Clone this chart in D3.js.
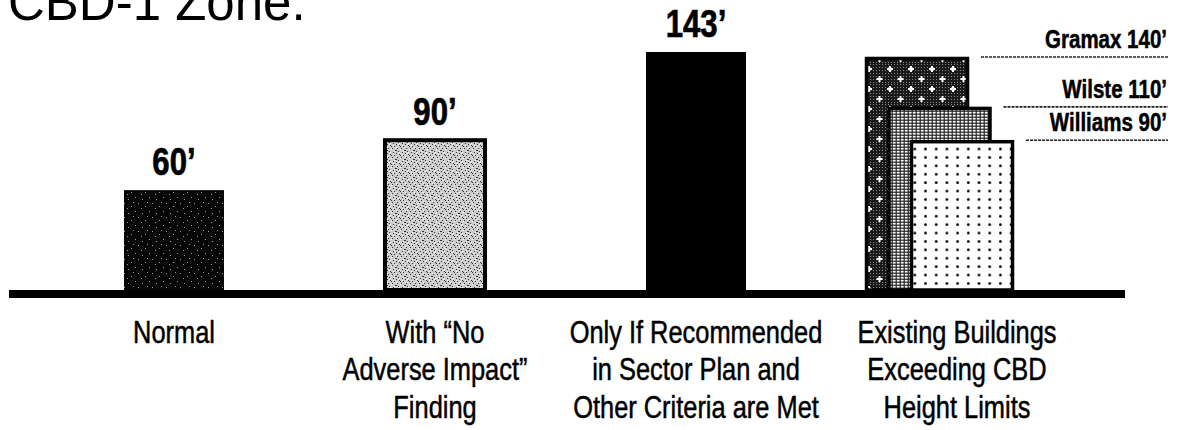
<!DOCTYPE html>
<html lang="en">
<head>
<meta charset="utf-8" />
<title>CBD-1 Zone height limits</title>
<style>
html, body {
	margin: 0;
	padding: 0;
	background: #fff;
}
svg {
	display: block;
}
text {
	font-family: "Liberation Sans", Arial, sans-serif;
}
text.cat {
	font-size: 31px;
	text-anchor: middle;
	stroke: #000;
	stroke-width: 0.5px;
}
text.val {
	font-weight: bold;
	font-size: 38px;
	text-anchor: middle;
	stroke: #000;
	stroke-width: 0.7px;
}
text.name {
	font-weight: bold;
	font-size: 25px;
	text-anchor: end;
	stroke: #000;
	stroke-width: 0.5px;
}
</style>
</head>
<body>
<svg width="1177" height="430"></svg>

<script src="https://cdn.jsdelivr.net/npm/d3@7"></script>
<script>
// data
var categories = ["Normal", "No Adverse Impact", "Sector Plan", "Existing"];
var categoryLines = [
	["Normal"],
	["With \u201cNo", "Adverse Impact\u201d", "Finding"],
	["Only If Recommended", "in Sector Plan and", "Other Criteria are Met"],
	["Existing Buildings", "Exceeding CBD", "Height Limits"]
];
var limitHeights = [60, 90, 143];        // first three categories, feet
var buildings = ["Gramax", "Wilste", "Williams"];
var buildingHeights = [140, 110, 90];    // existing buildings, feet

var svg = d3.select("svg");
var baseY = 290;
var narrow = 0.82; // squeeze Liberation Sans to a narrow face

function place(px, py) {
	return "translate(" + px + "," + py + ") scale(" + narrow + ",1)";
}

// scales
var x = d3.scalePoint().domain(categories).range([174, 957]);
var y = d3.scaleLinear().domain([0, 143]).range([baseY, 52]);
var barW = 100;
var bx = d3.scaleLinear().domain([0, buildings.length - 1]).range([-92, -47]); // offset of each building in the last group
var bW = 104;

// textures
var defs = svg.append("defs");

// near-black speckle
var p1 = defs.append("pattern").attr("id", "speck").attr("patternUnits", "userSpaceOnUse")
	.attr("width", 14).attr("height", 14);
p1.append("rect").attr("width", 14).attr("height", 14).attr("fill", "#060606");
[[2,3],[9,1],[5,10],[12,7],[1,12],[7,6]].forEach(function(p){
	p1.append("rect").attr("x", p[0]).attr("y", p[1]).attr("width", 1).attr("height", 1)
		.attr("fill", "#fff").attr("opacity", 0.6);
});

// light stipple
var p2 = defs.append("pattern").attr("id", "stipple").attr("patternUnits", "userSpaceOnUse")
	.attr("width", 9).attr("height", 9);
p2.append("rect").attr("width", 9).attr("height", 9).attr("fill", "#cdcdcd");
[[0,0],[3,1],[7,2],[1,4],[5,4],[8,6],[2,7],[6,8],[4,2],[0,6]].forEach(function(p){
	p2.append("rect").attr("x", p[0]).attr("y", p[1]).attr("width", 1).attr("height", 1).attr("fill", "#333");
});
[[2,0],[6,1],[0,3],[4,5],[7,7],[3,8]].forEach(function(p){
	p2.append("rect").attr("x", p[0]).attr("y", p[1]).attr("width", 1).attr("height", 1).attr("fill", "#fff");
});

// Gramax: dark fine dots with white plus signs
var p3 = defs.append("pattern").attr("id", "plus").attr("patternUnits", "userSpaceOnUse")
	.attr("width", 21).attr("height", 20).attr("x", 3).attr("y", 4);
p3.append("rect").attr("width", 21).attr("height", 20).attr("fill", "#1a1a1a");
for (var i = 0; i < 7; i++) for (var j = 0; j < 7; j++) {
	p3.append("rect").attr("x", i * 3).attr("y", j * 3).attr("width", 1).attr("height", 1).attr("fill", "#888");
}
[[5, 5], [15.5, 15]].forEach(function(c){
	p3.append("rect").attr("x", c[0] - 3).attr("y", c[1] - 1).attr("width", 6).attr("height", 2).attr("fill", "#fff");
	p3.append("rect").attr("x", c[0] - 1).attr("y", c[1] - 3).attr("width", 2).attr("height", 6).attr("fill", "#fff");
});

// Wilste: dense mesh
var p4 = defs.append("pattern").attr("id", "mesh").attr("patternUnits", "userSpaceOnUse")
	.attr("width", 4).attr("height", 3);
p4.append("rect").attr("width", 4).attr("height", 3).attr("fill", "#222");
p4.append("rect").attr("x", 0.8).attr("y", 0.8).attr("width", 2.8).attr("height", 1.8).attr("fill", "#fff");

// Williams: white with black dots
var p5 = defs.append("pattern").attr("id", "dots").attr("patternUnits", "userSpaceOnUse")
	.attr("width", 10.7).attr("height", 8.4).attr("x", 0).attr("y", 2);
p5.append("rect").attr("width", 10.7).attr("height", 8.4).attr("fill", "#fff");
p5.append("circle").attr("cx", 5.3).attr("cy", 4.2).attr("r", 1.4).attr("fill", "#000");

var fills = ["url(#speck)", "url(#stipple)", "#000"];
var bldFills = ["url(#plus)", "url(#mesh)", "url(#dots)"];

// title (cut off at the top edge, as in the source)
svg.append("text")
	.attr("x", 8).attr("y", 20)
	.style("font-size", "51px")
	.text("CBD-1 Zone.");

// zoning limit bars
var limits = categories.slice(0, 3).map(function(c, i){ return {cat: c, h: limitHeights[i]}; });

svg.selectAll("rect.limit")
	.data(limits)
	.enter()
	.append("rect")
	.attr("class", "limit")
	.attr("x", function(d){ return x(d.cat) - barW / 2; })
	.attr("y", function(d){ return y(d.h); })
	.attr("width", barW)
	.attr("height", function(d){ return baseY - y(d.h); })
	.attr("fill", function(d, i){ return fills[i]; })
	.attr("stroke", function(d, i){ return i == 1 ? "#000" : "none"; })
	.attr("stroke-width", 4);

svg.selectAll("text.val")
	.data(limits)
	.enter()
	.append("text")
	.attr("class", "val")
	.attr("transform", function(d){ return place(x(d.cat), y(d.h) - 15); })
	.text(function(d){ return d.h + "\u2019"; });

// existing buildings, tallest first so they overlap like the picture
var bld = buildings.map(function(b, i){ return {name: b, h: buildingHeights[i], i: i}; });
var gx = x(categories[3]);

svg.selectAll("rect.bldg")
	.data(bld)
	.enter()
	.append("rect")
	.attr("class", "bldg")
	.attr("x", function(d){ return gx + bx(d.i) + 1.5; })
	.attr("y", function(d){ return y(d.h) + 1.5; })
	.attr("width", bW - 3)
	.attr("height", function(d){ return baseY - y(d.h) - 1.5; })
	.attr("fill", function(d){ return bldFills[d.i]; })
	.attr("stroke", "#000")
	.attr("stroke-width", 3.5);

// leader lines and names
svg.selectAll("line.lead")
	.data(bld)
	.enter()
	.append("line")
	.attr("class", "lead")
	.attr("x1", function(d){ return gx + bx(d.i) + bW + 12; })
	.attr("x2", 1168)
	.attr("y1", function(d){ return y(d.h); })
	.attr("y2", function(d){ return y(d.h); })
	.attr("stroke", "#222")
	.attr("stroke-width", 1.6)
	.attr("stroke-dasharray", "3,1");

svg.selectAll("text.name")
	.data(bld)
	.enter()
	.append("text")
	.attr("class", "name")
	.attr("transform", function(d){ return place(1167, y(d.h) - 9); })
	.text(function(d){ return d.name + " " + d.h + "\u2019"; });

// ground line
svg.append("rect")
	.attr("x", 9).attr("y", baseY)
	.attr("width", 1116).attr("height", 8)
	.attr("fill", "#000");

// category labels
var cat = svg.selectAll("text.cat")
	.data(categories)
	.enter()
	.append("text")
	.attr("class", "cat")
	.attr("transform", function(d){ return place(x(d), 343); });

cat.selectAll("tspan")
	.data(function(d, i){ return categoryLines[i]; })
	.enter()
	.append("tspan")
	.attr("x", 0)
	.attr("dy", function(d, i){ return i == 0 ? 0 : 37.5; })
	.text(function(d){ return d; });
</script>
</body>
</html>
